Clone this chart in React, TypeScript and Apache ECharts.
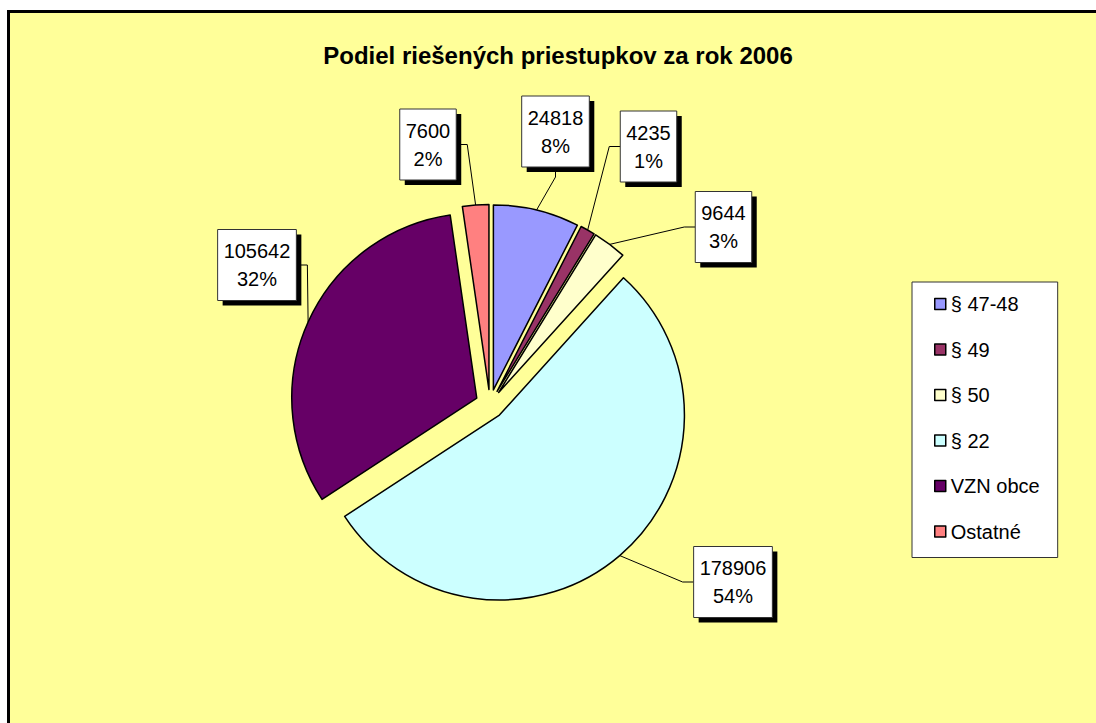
import React, { useEffect, useRef } from 'react';
import * as echarts from 'echarts';

// ---- data ----
const categories = ['§ 47-48', '§ 49', '§ 50', '§ 22', 'VZN obce', 'Ostatné'];
const values = [24818, 4235, 9644, 178906, 105642, 7600];
const colors = ['#9999FF', '#993366', '#FFFFCC', '#CCFFFF', '#660066', '#FF8080'];
const titleText = 'Podiel riešených priestupkov za rok 2006';

// ---- layout (positions only) ----
const PIE_CENTER = [490, 404];
const PIE_RADIUS = 185;
const EXPLODE = 14.5;
const labelBoxCenters = [
  [555.5, 131.5],
  [648.5, 146.5],
  [723.5, 227],
  [733, 582],
  [257, 265],
  [428, 144.5],
];
const labelSides = ['bottom', 'left', 'left', 'left', 'right', 'right'];
const FONT = '"Liberation Sans", Arial, Helvetica, sans-serif';

export default function App() {
  const ref = useRef<HTMLDivElement>(null);

  useEffect(() => {
    const chart = echarts.init(ref.current!, null, { renderer: 'svg' });
    const total = values.reduce((a, b) => a + b, 0);

    let cum = 0;
    const labelEls: any[] = [];
    values.forEach((v, i) => {
      const start = cum / total;
      cum += v;
      const end = cum / total;
      const mid = ((start + end) / 2) * Math.PI * 2;
      const dx = Math.sin(mid);
      const dy = -Math.cos(mid);
      const r = PIE_RADIUS + EXPLODE;
      const ax = PIE_CENTER[0] + r * dx;
      const ay = PIE_CENTER[1] + r * dy;
      const pct = Math.round((v / total) * 100);
      const w = String(v).length * 11.12 + 12;
      const h = 71;
      const [cx, cy] = labelBoxCenters[i];
      let ex = cx, ey = cy, bx = cx, by = cy;
      const side = labelSides[i];
      if (side === 'bottom') {
        ex = cx; ey = cy + h / 2; bx = cx; by = ey + 10;
      } else if (side === 'left') {
        ex = cx - w / 2; ey = cy; bx = ex - 11; by = cy;
      } else {
        ex = cx + w / 2; ey = cy; bx = ex + 11; by = cy;
      }
      labelEls.push({
        type: 'polyline',
        z: 100,
        shape: { points: [[ax, ay], [bx, by], [ex, ey]] },
        style: { stroke: '#000', lineWidth: 1, fill: 'none' },
        silent: true,
      });
      labelEls.push({
        type: 'rect',
        z: 100,
        shape: { x: cx - w / 2 + 5, y: cy - h / 2 + 5, width: w, height: h },
        style: { fill: '#000' },
        silent: true,
      });
      labelEls.push({
        type: 'rect',
        z: 101,
        shape: { x: cx - w / 2, y: cy - h / 2, width: w, height: h },
        style: { fill: '#fff', stroke: '#333', lineWidth: 1 },
        silent: true,
      });
      labelEls.push({
        type: 'text',
        z: 102,
        x: cx,
        y: cy,
        style: {
          text: `${v}\n${pct}%`,
          fill: '#000',
          font: `20px ${FONT}`,
          align: 'center',
          verticalAlign: 'middle',
          lineHeight: 28,
        },
        silent: true,
      });
    });

    chart.setOption({
      animation: false,
      backgroundColor: 'transparent',
      graphic: [
        {
          type: 'text',
          z: 100,
          x: 558,
          y: 55,
          style: {
            text: titleText,
            fill: '#000',
            font: `bold 24px ${FONT}`,
            align: 'center',
            verticalAlign: 'middle',
          },
        },
        ...labelEls,
      ],
      legend: {
        orient: 'vertical',
        left: 912,
        top: 282,
        padding: [12, 18, 16, 22],
        itemGap: 25.5,
        itemWidth: 11,
        itemHeight: 11,
        itemTextGap: 7,
        icon: 'rect',
        backgroundColor: '#fff',
        borderColor: '#333',
        borderWidth: 1,
        itemStyle: { borderColor: '#000', borderWidth: 1.5 },
        textStyle: { fontSize: 20, fontFamily: FONT, color: '#000' },
        data: categories,
      },
      series: [
        {
          type: 'pie',
          center: PIE_CENTER,
          radius: PIE_RADIUS,
          startAngle: 90,
          clockwise: true,
          selectedMode: 'multiple',
          selectedOffset: EXPLODE,
          avoidLabelOverlap: false,
          label: { show: false },
          labelLine: { show: false },
          emphasis: { disabled: true },
          itemStyle: { borderColor: '#000', borderWidth: 1.5 },
          select: { itemStyle: { borderColor: '#000', borderWidth: 1.5 } },
          data: categories.map((name, i) => ({
            name,
            value: values[i],
            selected: true,
            itemStyle: { color: colors[i] },
          })),
        },
      ],
    });

    return () => chart.dispose();
  }, []);

  return (
    <div style={{ position: 'fixed', left: 0, top: 0, width: 1096, height: 723, background: '#fff', overflow: 'hidden' }}>
      <div
        style={{
          position: 'absolute',
          left: 7,
          top: 10,
          width: 1200,
          height: 800,
          background: '#FFFF99',
          border: '3px solid #000',
        }}
      />
      <div ref={ref} style={{ position: 'absolute', left: 0, top: 0, width: 1096, height: 723 }} />
    </div>
  );
}
